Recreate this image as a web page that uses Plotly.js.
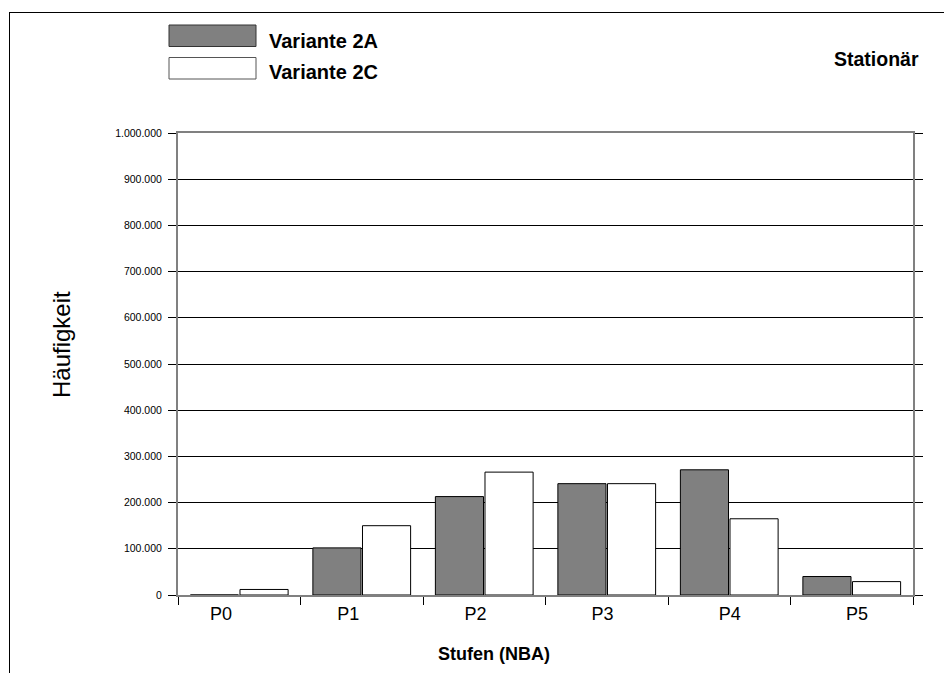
<!DOCTYPE html>
<html>
<head>
<meta charset="utf-8">
<script src="https://cdn.plot.ly/plotly-3.0.1.min.js"></script>
<style>
  html, body { margin: 0; padding: 0; background: #fff; }
  #wrap { position: relative; width: 944px; height: 673px; }
  #chart { width: 944px; height: 673px; }
  #frame { position: absolute; left: 9px; top: 12px; width: 940px; height: 670px;
           border-left: 1px solid #000; border-top: 1px solid #000; pointer-events: none; }
</style>
</head>
<body>
<div id="wrap">
  <div id="chart"></div>
  <div id="frame"></div>
</div>
<script>
// ---- data ----
const categories = ["P0", "P1", "P2", "P3", "P4", "P5"];
const seriesNames = ["Variante 2A", "Variante 2C"];
const variante2A = [0, 102000, 213000, 241000, 271000, 40000];
const variante2C = [12000, 150000, 266000, 241000, 165000, 29000];
const yTickValues = [0, 100000, 200000, 300000, 400000, 500000, 600000, 700000, 800000, 900000, 1000000];
const chartNote = "Stationär";
const xTitle = "Stufen (NBA)";
const yTitle = "Häufigkeit";

// ---- layout helpers (pixel -> paper) ----
const W = 944, H = 673, L = 178, R = 31, T = 133, B = 78;
const pw = W - L - R, ph = H - T - B;
const px = x => (x - L) / pw;
const py = y => (H - B - y) / ph;

const idx = categories.map((c, i) => i);
const boundaries = categories.map((c, i) => i - 0.5).concat([categories.length - 0.5]);
const font = "Arial, 'Liberation Sans', sans-serif";

const traces = [
  { type: "bar", name: seriesNames[0], x: idx, y: variante2A, xaxis: "x", yaxis: "y",
    marker: { color: "#808080", line: { color: "#000", width: 1 } }, hoverinfo: "x+y" },
  { type: "bar", name: seriesNames[1], x: idx, y: variante2C, xaxis: "x", yaxis: "y",
    marker: { color: "#ffffff", line: { color: "#000", width: 1 } }, hoverinfo: "x+y" },
  // invisible trace carrying the category label axis
  { type: "scatter", x: idx, y: idx.map(() => null), xaxis: "x2", yaxis: "y",
    showlegend: false, hoverinfo: "skip", mode: "markers" }
];

const layout = {
  width: W, height: H,
  margin: { l: L, r: R, t: T, b: B, pad: 0 },
  paper_bgcolor: "#fff", plot_bgcolor: "#fff",
  separators: ",.",
  showlegend: false,
  barmode: "group", bargap: 0.19, bargroupgap: 0.03,
  font: { family: font, color: "#000" },
  xaxis: {
    range: [-0.5, categories.length - 0.5],
    tickmode: "array", tickvals: boundaries, ticktext: boundaries.map(() => ""),
    ticks: "outside", ticklen: 8, tickwidth: 1, tickcolor: "#000",
    showticklabels: false, showgrid: false, zeroline: false,
    showline: true, linecolor: "#808080", linewidth: 2, mirror: true, fixedrange: true
  },
  xaxis2: {
    overlaying: "x", anchor: "y", side: "bottom",
    range: [-0.338, 5.44],
    tickmode: "array", tickvals: idx, ticktext: categories,
    ticks: "", showgrid: false, zeroline: false, showline: false,
    tickfont: { family: font, size: 18, color: "#000" }, ticklabelstandoff: 6, fixedrange: true
  },
  yaxis: {
    range: [0, 1000000],
    tickmode: "array", tickvals: yTickValues, tickformat: ",",
    ticks: "outside", ticklen: 8, tickwidth: 1, tickcolor: "#000",
    tickfont: { family: font, size: 10.5, color: "#000" }, ticklabelstandoff: 4,
    showgrid: true, gridcolor: "#000", gridwidth: 1,
    zeroline: false, showline: true, linecolor: "#808080", linewidth: 2, mirror: "allticks",
    fixedrange: true
  },
  shapes: [
    { type: "rect", xref: "paper", yref: "paper", x0: px(169), x1: px(256), y0: py(25), y1: py(46.5),
      fillcolor: "#808080", line: { color: "#333", width: 1 } },
    { type: "rect", xref: "paper", yref: "paper", x0: px(169), x1: px(256), y0: py(57.5), y1: py(79),
      fillcolor: "#ffffff", line: { color: "#555", width: 1 } }
  ],
  annotations: [
    { xref: "paper", yref: "paper", x: px(267), y: py(41), xanchor: "left", yanchor: "middle",
      text: "<b>" + seriesNames[0] + "</b>", showarrow: false, font: { family: font, size: 20, color: "#000" } },
    { xref: "paper", yref: "paper", x: px(267), y: py(72), xanchor: "left", yanchor: "middle",
      text: "<b>" + seriesNames[1] + "</b>", showarrow: false, font: { family: font, size: 20, color: "#000" } },
    { xref: "paper", yref: "paper", x: px(921), y: py(59), xanchor: "right", yanchor: "middle",
      text: "<b>" + chartNote + "</b>", showarrow: false, font: { family: font, size: 19.5, color: "#000" } },
    { xref: "paper", yref: "paper", x: px(494), y: py(654), xanchor: "center", yanchor: "middle",
      text: "<b>" + xTitle + "</b>", showarrow: false, font: { family: font, size: 18, color: "#000" } },
    { xref: "paper", yref: "paper", x: px(61), y: py(345), xanchor: "center", yanchor: "middle",
      text: yTitle, textangle: -90, showarrow: false, font: { family: font, size: 24, color: "#000" } }
  ]
};

Plotly.newPlot("chart", traces, layout, { displayModeBar: false, staticPlot: true });
</script>
</body>
</html>
